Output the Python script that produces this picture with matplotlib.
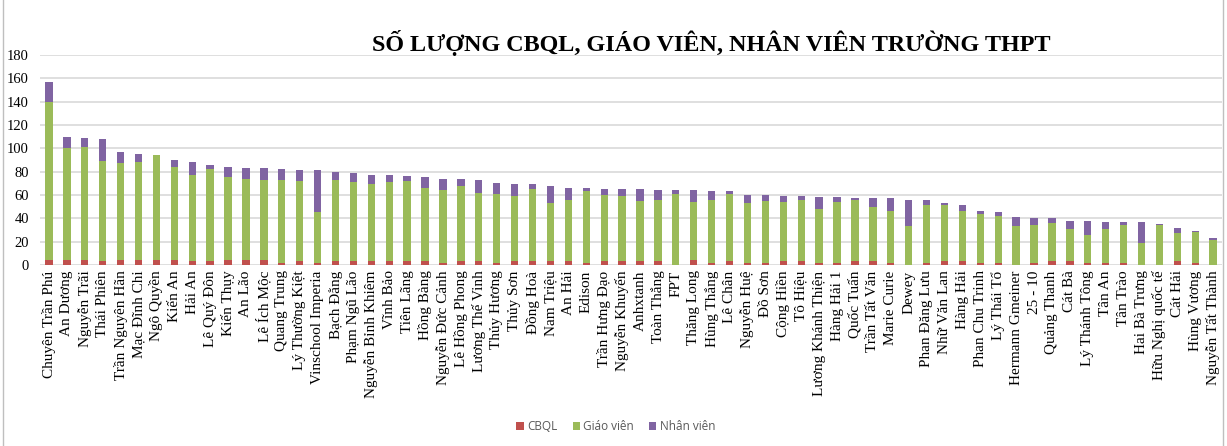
import numpy as np
import matplotlib
matplotlib.use('Agg')
import matplotlib.pyplot as plt
from matplotlib.lines import Line2D

# Tên trường
truong = [
    'Chuyên Trần Phú', 'An Dương', 'Nguyễn Trãi', 'Thái Phiên', 'Trần Nguyên Hãn',
    'Mạc Đĩnh Chi', 'Ngô Quyền', 'Kiến An', 'Hải An', 'Lê Quý Đôn',
    'Kiến Thụy', 'An Lão', 'Lê Ích Mộc', 'Quang Trung', 'Lý Thường Kiệt',
    'Vinschool Imperia', 'Bạch Đằng', 'Phạm Ngũ Lão', 'Nguyễn Bỉnh Khiêm', 'Vĩnh Bảo',
    'Tiên Lãng', 'Hồng Bàng', 'Nguyễn Đức Cảnh', 'Lê Hồng Phong', 'Lương Thế Vinh',
    'Thủy Hương', 'Thủy Sơn', 'Đồng Hoà', 'Nam Triệu', 'An Hải',
    'Edison', 'Trần Hưng Đạo', 'Nguyễn Khuyến', 'Anhxtanh', 'Toàn Thắng',
    'FPT', 'Thăng Long', 'Hùng Thắng', 'Lê Chân', 'Nguyễn Huệ',
    'Đồ Sơn', 'Cộng Hiền', 'Tô Hiệu', 'Lương Khánh Thiện', 'Hàng Hải 1',
    'Quốc Tuấn', 'Trần Tất Văn', 'Marie Curie', 'Dewey', 'Phan Đăng Lưu',
    'Nhữ Văn Lan', 'Hàng Hải', 'Phan Chu Trinh', 'Lý Thái Tổ', 'Hermann Gmeiner',
    '25 - 10', 'Quảng Thanh', 'Cát Bà', 'Lý Thánh Tông', 'Tân An',
    'Tân Trào', 'Hai Bà Trưng', 'Hữu Nghị quốc tế', 'Cát Hải', 'Hùng Vương',
    'Nguyễn Tất Thành',
]

cbql = [4, 4, 4, 3, 4, 4, 4, 4, 3, 3,
        4, 4, 4, 2, 3, 2, 3, 3, 3, 3,
        3, 3, 2, 3, 3, 2, 3, 3, 3, 3,
        2, 3, 3, 3, 3, 0, 4, 2, 3, 2,
        2, 3, 3, 2, 2, 3, 3, 2, 0, 2,
        3, 3, 2, 2, 0, 2, 3, 3, 2, 2,
        2, 0, 0, 3, 2, 0]

giao_vien = [136, 96, 97, 86, 83, 84, 90, 80, 74, 79,
             71, 70, 69, 71, 69, 43, 70, 68, 66, 68,
             69, 63, 62, 65, 59, 59, 56, 62, 50, 53,
             61, 57, 56, 52, 53, 61, 50, 54, 58, 51,
             53, 51, 53, 46, 52, 53, 47, 44, 33, 49,
             48, 43, 42, 40, 33, 32, 33, 28, 24, 29,
             32, 19, 34, 24, 26, 21]

nhan_vien = [17, 10, 8, 19, 10, 7, 0, 6, 11, 4,
             9, 9, 10, 9, 9, 36, 7, 8, 8, 6,
             4, 9, 10, 6, 11, 9, 10, 4, 15, 10,
             3, 5, 6, 10, 8, 3, 10, 7, 2, 7,
             5, 5, 3, 10, 4, 1, 7, 11, 23, 5,
             2, 5, 2, 3, 8, 6, 4, 7, 12, 6,
             3, 18, 1, 5, 1, 2]

mau_cbql = '#C0504D'
mau_gv = '#9BBB59'
mau_nv = '#8064A2'

cbql = np.array(cbql)
giao_vien = np.array(giao_vien)
nhan_vien = np.array(nhan_vien)
x = np.arange(len(truong))

fig = plt.figure(figsize=(12.27, 4.46), dpi=100)
ax = fig.add_axes([0.0326, 0.406, 0.9634, 0.471])

w = 0.41
ax.bar(x, cbql, w, color=mau_cbql, label='CBQL', zorder=3)
ax.bar(x, giao_vien, w, bottom=cbql, color=mau_gv, label='Giáo viên', zorder=3)
ax.bar(x, nhan_vien, w, bottom=cbql + giao_vien, color=mau_nv, label='Nhân viên', zorder=3)

ax.set_xlim(-0.5, len(truong) - 0.5)
ax.set_ylim(0, 180)
ax.set_yticks(np.arange(0, 181, 20))
ax.grid(axis='y', color='#D9D9D9', linewidth=1.2, zorder=0)
for s in ax.spines.values():
    s.set_visible(False)

ax.set_xticks(x)
ax.set_xticklabels(truong, rotation=90, fontsize=11, family='Liberation Serif')
ax.tick_params(axis='x', length=0, pad=4)
ax.tick_params(axis='y', length=0, pad=8, labelsize=10.5)
for t in ax.get_yticklabels():
    t.set_family('Liberation Serif')

fig.text(0.58, 0.903, 'SỐ LƯỢNG CBQL, GIÁO VIÊN, NHÂN VIÊN TRƯỜNG THPT',
         ha='center', va='center', fontsize=17.4, fontweight='bold',
         family='Liberation Serif')

leg = fig.legend(loc='center', bbox_to_anchor=(0.502, 0.043), ncol=3, frameon=False,
                 prop={'family': 'Open Sans', 'size': 8.5}, handlelength=0.6,
                 handleheight=0.6, handletextpad=0.3, columnspacing=1.3)
for t in leg.get_texts():
    t.set_color('#595959')

# khung ngoài
fig.add_artist(Line2D([3 / 1227, 3 / 1227], [0, 1], color='#BFBFBF', linewidth=1))
fig.add_artist(Line2D([1223 / 1227, 1223 / 1227], [0, 1], color='#BFBFBF', linewidth=1))

fig.savefig('out.png', dpi=100, facecolor='white')
